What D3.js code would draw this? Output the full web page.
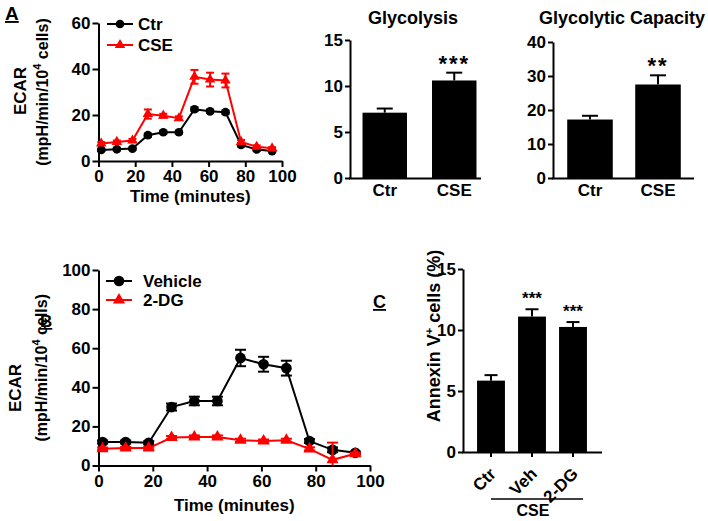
<!DOCTYPE html>
<html>
<head>
<meta charset="utf-8">
<script src="https://cdn.jsdelivr.net/npm/d3@7"></script>
<style>
  body { margin: 0; background: #fff; }
  svg text { font-family: "Liberation Sans", Arial, sans-serif; font-weight: bold; }
</style>
</head>
<body>
<svg id="fig" width="708" height="521"></svg>
<script>
// measurement times (minutes), shared by both time courses
const timepoints = [1.5, 10.0, 18.5, 26.9, 35.3, 43.8, 52.3, 60.8, 69.2, 77.7, 86.2, 94.6];

// panel A, ECAR time course
const ctrA    = [4.8, 5.1, 5.4, 11.2, 12.5, 12.5, 22.5, 21.6, 21.2, 7.0, 5.0, 4.3];
const ctrAErr = [0.5, 0.5, 0.5, 0.7, 0.6, 0.6, 0.8, 0.7, 0.7, 0.6, 0.5, 0.5];
const cseA    = [7.6, 8.3, 8.9, 20.4, 19.7, 18.6, 36.6, 35.4, 35.0, 8.3, 6.2, 5.5];
const cseAErr = [0.6, 0.6, 0.7, 2.0, 0.8, 0.8, 3.0, 3.0, 3.0, 0.8, 0.6, 0.5];

// panel A, bars
const barCats   = ["Ctr", "CSE"];
const glyVals   = [7.1, 10.6];
const glyErr    = [0.45, 0.85];
const glyStars  = ["", "***"];
const capVals   = [17.2, 27.5];
const capErr    = [1.1, 2.7];
const capStars  = ["", "**"];

// panel B, ECAR time course
const vehB    = [12.0, 12.0, 11.6, 29.9, 33.0, 33.0, 55.0, 51.8, 49.8, 12.5, 8.0, 6.5];
const vehBErr = [0.8, 0.8, 0.8, 1.8, 2.2, 2.2, 4.2, 3.8, 3.8, 1.0, 1.2, 0.6];
const dgB     = [8.6, 8.9, 8.9, 14.3, 14.6, 14.6, 12.9, 12.5, 12.9, 8.5, 2.9, 6.0];
const dgBErr  = [0.6, 0.6, 0.6, 0.8, 0.8, 0.8, 0.8, 0.8, 0.8, 0.8, 8.8, 0.6];

// panel C, annexin V
const cCats  = ["Ctr", "Veh", "2-DG"];
const cVals  = [5.85, 11.1, 10.25];
const cErr   = [0.45, 0.6, 0.4];
const cStars = ["", "***", "***"];

const svg = d3.select("#fig");

function styleAxis(g) {
  g.attr("font-family", null).attr("font-size", 17).attr("font-weight", "bold");
  g.select(".domain").attr("stroke-width", 2);
  g.selectAll(".tick line").attr("stroke-width", 2);
  g.selectAll(".tick text").attr("fill", "#000");
}

function marker(sel, type, size) {
  return sel.attr("d", d3.symbol().type(type === "circle" ? d3.symbolCircle : d3.symbolTriangle).size(size));
}

function lineChart(o) {
  const x = d3.scaleLinear().domain([0, 100]).range([o.left, o.right]);
  const y = d3.scaleLinear().domain([0, o.ymax]).range([o.bottom, o.top]);

  svg.append("g").attr("transform", `translate(0,${o.bottom})`)
    .call(d3.axisBottom(x).tickValues(d3.range(0, 101, 20)).tickSize(6).tickSizeOuter(0).tickPadding(3))
    .call(styleAxis);
  svg.append("g").attr("transform", `translate(${o.left},0)`)
    .call(d3.axisLeft(y).tickValues(o.yticks).tickSize(6).tickSizeOuter(0).tickPadding(2))
    .call(styleAxis);

  o.series.forEach(s => {
    const pts = timepoints.map((t, i) => ({ t, v: s.vals[i], e: s.errs[i] }));
    const g = svg.append("g");
    g.append("path").datum(pts)
      .attr("d", d3.line().x(d => x(d.t)).y(d => y(d.v)))
      .attr("fill", "none").attr("stroke", s.color).attr("stroke-width", 2);
    const eb = g.selectAll(".eb").data(pts).join("g").attr("stroke", s.color).attr("stroke-width", 2);
    eb.append("line")
      .attr("x1", d => x(d.t)).attr("x2", d => x(d.t))
      .attr("y1", d => y(Math.max(0, d.v - d.e))).attr("y2", d => y(d.v + d.e));
    eb.append("line")
      .attr("x1", d => x(d.t) - o.cap).attr("x2", d => x(d.t) + o.cap)
      .attr("y1", d => y(d.v + d.e)).attr("y2", d => y(d.v + d.e));
    eb.filter(d => d.v - d.e > 0).append("line")
      .attr("x1", d => x(d.t) - o.cap).attr("x2", d => x(d.t) + o.cap)
      .attr("y1", d => y(d.v - d.e)).attr("y2", d => y(d.v - d.e));
    g.selectAll(".mk").data(pts).join("path")
      .call(marker, s.type, s.type === "circle" ? o.circ : o.tri)
      .attr("transform", d => `translate(${x(d.t)},${y(d.v)})`)
      .attr("fill", s.color);

    // legend entry
    const lg = svg.append("g").attr("transform", `translate(${o.legX},${s.legY})`);
    lg.append("line").attr("x1", 0).attr("x2", o.legW).attr("stroke", s.color).attr("stroke-width", 2);
    lg.append("path").call(marker, s.type, s.type === "circle" ? o.circ : o.tri)
      .attr("transform", `translate(${o.legW / 2},0)`).attr("fill", s.color);
    lg.append("text").attr("x", o.legText).attr("y", 6).attr("font-size", 17).text(s.name);
  });

  svg.append("text").attr("x", (o.left + o.right) / 2).attr("y", o.xTitleY)
    .attr("text-anchor", "middle").attr("font-size", 17).text("Time (minutes)");

  svg.append("text").attr("transform", `translate(${o.yT1},${o.yT1c}) rotate(-90)`)
    .attr("text-anchor", "middle").attr("font-size", 17).text("ECAR");
  const t2 = svg.append("text").attr("transform", `translate(${o.yT2},${(o.top + o.bottom) / 2}) rotate(-90)`)
    .attr("text-anchor", "middle").attr("font-size", 16);
  t2.append("tspan").text("(mpH/min/10");
  t2.append("tspan").attr("font-size", 11).attr("dy", -7).text("4");
  t2.append("tspan").attr("dy", 7).text(" cells)");
}

function barChart(o) {
  const x = d3.scaleBand().domain(o.cats).range(o.range).paddingInner(o.pad).paddingOuter(o.pad / 2);
  const y = d3.scaleLinear().domain([0, o.ymax]).range([o.bottom, o.top]);
  const rows = o.cats.map((c, i) => ({ c, v: o.vals[i], e: o.errs[i], s: o.stars[i] }));

  svg.append("g").selectAll("rect").data(rows).join("rect")
    .attr("x", d => x(d.c)).attr("y", d => y(d.v))
    .attr("width", x.bandwidth()).attr("height", d => o.bottom - y(d.v))
    .attr("fill", "#000");

  const eb = svg.append("g").attr("stroke", "#000").attr("stroke-width", 2);
  eb.selectAll(".v").data(rows).join("line")
    .attr("x1", d => x(d.c) + x.bandwidth() / 2).attr("x2", d => x(d.c) + x.bandwidth() / 2)
    .attr("y1", d => y(d.v)).attr("y2", d => y(d.v + d.e));
  eb.selectAll(".c").data(rows).join("line")
    .attr("x1", d => x(d.c) + x.bandwidth() / 2 - o.cap).attr("x2", d => x(d.c) + x.bandwidth() / 2 + o.cap)
    .attr("y1", d => y(d.v + d.e)).attr("y2", d => y(d.v + d.e));

  svg.append("g").selectAll("text").data(rows).join("text")
    .attr("x", d => x(d.c) + x.bandwidth() / 2).attr("y", d => y(d.v + d.e) - o.starGap)
    .attr("text-anchor", "middle").attr("font-size", o.starSize)
    .attr("font-weight", o.starWeight).attr("letter-spacing", o.starSpace)
    .text(d => d.s);

  const xa = svg.append("g").attr("transform", `translate(0,${o.bottom})`)
    .call(d3.axisBottom(x).tickSize(o.xtick).tickSizeOuter(0).tickPadding(6))
    .call(styleAxis);
  xa.select(".domain").remove();
  svg.append("line").attr("x1", o.left - 1).attr("x2", o.axisEnd)
    .attr("y1", o.bottom + 0.5).attr("y2", o.bottom + 0.5)
    .attr("stroke", "#000").attr("stroke-width", 2);
  if (o.rotate) {
    xa.selectAll(".tick text").attr("text-anchor", "end").attr("x", 0).attr("y", 0).attr("dy", 0)
      .attr("transform", "translate(6,23) rotate(-45)");
  }

  svg.append("g").attr("transform", `translate(${o.left},0)`)
    .call(d3.axisLeft(y).tickValues(o.yticks).tickSize(5).tickSizeOuter(0).tickPadding(2))
    .call(styleAxis);

  if (o.title) {
    svg.append("text").attr("x", o.titleX).attr("y", 24).attr("text-anchor", "middle")
      .attr("font-size", 18).text(o.title);
  }
}

// ---- panel A
lineChart({
  left: 98.5, right: 282, bottom: 161, top: 23, ymax: 60, yticks: [0, 20, 40, 60],
  cap: 4, circ: 60, tri: 48,
  legX: 107, legW: 26, legText: 31,
  xTitleY: 202, yT1: 26, yT1c: 91, yT2: 48,
  series: [
    { name: "Ctr", vals: ctrA, errs: ctrAErr, color: "#000", type: "circle", legY: 24 },
    { name: "CSE", vals: cseA, errs: cseAErr, color: "#f00", type: "triangle", legY: 45 }
  ]
});

barChart({
  cats: barCats, vals: glyVals, errs: glyErr, stars: glyStars,
  range: [350, 489], pad: 0.36, left: 350, axisEnd: 481, bottom: 178, top: 40, ymax: 15,
  yticks: [0, 5, 10, 15], cap: 8, xtick: 0, starGap: 2, starSize: 22, starWeight: "normal", starSpace: 2,
  title: "Glycolysis", titleX: 413
});

barChart({
  cats: barCats, vals: capVals, errs: capErr, stars: capStars,
  range: [556, 692], pad: 0.33, left: 553, axisEnd: 694, bottom: 178, top: 42, ymax: 40,
  yticks: [0, 10, 20, 30, 40], cap: 8, xtick: 0, starGap: 2, starSize: 22, starWeight: "normal", starSpace: 2,
  title: "Glycolytic Capacity", titleX: 622
});

// ---- panel B
lineChart({
  left: 98.5, right: 370, bottom: 465.5, top: 270, ymax: 100, yticks: [0, 20, 40, 60, 80, 100],
  cap: 5.5, circ: 90, tri: 64,
  legX: 106, legW: 26, legText: 37,
  xTitleY: 511, yT1: 21, yT1c: 388, yT2: 47,
  series: [
    { name: "Vehicle", vals: vehB, errs: vehBErr, color: "#000", type: "circle", legY: 281 },
    { name: "2-DG", vals: dgB, errs: dgBErr, color: "#f00", type: "triangle", legY: 300 }
  ]
});

// ---- panel C
barChart({
  cats: cCats, vals: cVals, errs: cErr, stars: cStars,
  range: [470.5, 593.5], pad: 0.32, left: 463, axisEnd: 602, bottom: 452, top: 269, ymax: 15,
  yticks: [0, 5, 10, 15], cap: 6.5, xtick: 5, starGap: 5, starSize: 17, starWeight: "normal", starSpace: 0,
  rotate: true
});

svg.append("line").attr("x1", 491).attr("x2", 583).attr("y1", 499).attr("y2", 499)
  .attr("stroke", "#000").attr("stroke-width", 1.5);
svg.append("text").attr("x", 533).attr("y", 516).attr("text-anchor", "middle").attr("font-size", 16).text("CSE");

const cTitle = svg.append("text").attr("transform", "translate(440,336) rotate(-90)")
  .attr("text-anchor", "middle").attr("font-size", 18);
cTitle.append("tspan").text("Annexin V");
cTitle.append("tspan").attr("font-size", 11).attr("dy", -7).text("+");
cTitle.append("tspan").attr("dy", 7).text(" cells (%)");

// panel letters
svg.append("text").attr("x", 5).attr("y", 20).attr("font-size", 19).attr("text-decoration", "underline").text("A");
svg.append("text").attr("x", 40).attr("y", 327).attr("font-size", 17).attr("text-decoration", "underline").text("B");
svg.append("text").attr("x", 373).attr("y", 308).attr("font-size", 18).attr("text-decoration", "underline").text("C");
</script>
</body>
</html>
